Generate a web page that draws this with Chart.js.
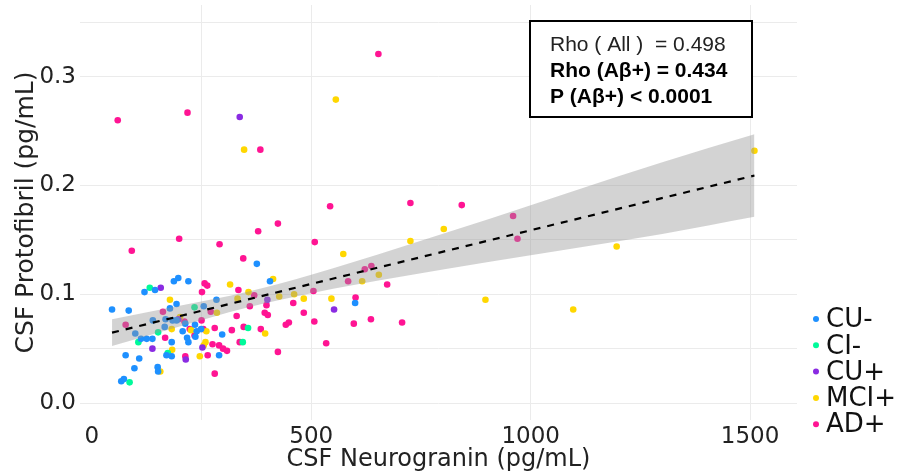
<!DOCTYPE html>
<html>
<head>
<meta charset="utf-8">
<script src="https://cdn.jsdelivr.net/npm/chart.js@4.4.1/dist/chart.umd.min.js"></script>
<style>
  html, body { margin: 0; padding: 0; background: #fff; }
  #wrap { width: 909px; height: 476px; }
</style>
</head>
<body>
<div id="wrap"><canvas id="scatterChart" width="909" height="476"></canvas></div>
<script>
// Groups and colours (legend order)
const GROUPS = ["CU-", "CI-", "CU+", "MCI+", "AD+"];
const GROUP_COLORS = ["#1e90ff", "#00fa9a", "#8a2be2", "#ffd700", "#ff1493"];

// [neurogranin pg/mL, protofibril pg/mL] per participant
const cuMinus = [
    [46, 0.086], [84, 0.085], [120, 0.102], [144, 0.104], [187, 0.112], [197, 0.115],
    [220, 0.112], [193, 0.091], [178, 0.087], [184, 0.076], [193, 0.076], [139, 0.076],
    [168, 0.077], [99, 0.064], [166, 0.070], [207, 0.066], [213, 0.073], [235, 0.072],
    [239, 0.066], [249, 0.068], [217, 0.060], [220, 0.056], [236, 0.061], [255, 0.089],
    [284, 0.095], [297, 0.063], [290, 0.044], [376, 0.128], [406, 0.112], [600, 0.092],
    [77, 0.044], [108, 0.041], [97, 0.032], [150, 0.033], [151, 0.029], [67, 0.020],
    [73, 0.022], [170, 0.044], [182, 0.043], [182, 0.056], [112, 0.059], [125, 0.059],
    [138, 0.059]
];
const ciMinus = [
    [132, 0.106], [234, 0.088], [151, 0.065], [106, 0.056], [86, 0.019], [173, 0.046],
    [356, 0.069], [344, 0.056]
];
const cuPlus = [
    [157, 0.106], [337, 0.263], [552, 0.086], [400, 0.095], [138, 0.050], [214, 0.040],
    [252, 0.051], [197, 0.077]
];
const mciPlus = [
    [347, 0.233], [556, 0.279], [1510, 0.232], [802, 0.160], [726, 0.149], [654, 0.118],
    [897, 0.095], [1097, 0.086], [1196, 0.144], [573, 0.137], [413, 0.114], [616, 0.112],
    [546, 0.096], [483, 0.096], [461, 0.100], [427, 0.098], [395, 0.064], [357, 0.102],
    [332, 0.096], [315, 0.109], [178, 0.095], [201, 0.079], [182, 0.068], [226, 0.067],
    [255, 0.053], [261, 0.066], [259, 0.056], [285, 0.083], [156, 0.029], [183, 0.049],
    [246, 0.043]
];
const adPlus = [
    [59, 0.260], [218, 0.267], [384, 0.233], [653, 0.321], [543, 0.181], [424, 0.165],
    [379, 0.158], [726, 0.184], [843, 0.182], [960, 0.172], [970, 0.151], [637, 0.126],
    [673, 0.109], [636, 0.077], [707, 0.074], [508, 0.148], [345, 0.133], [622, 0.123],
    [584, 0.112], [505, 0.103], [601, 0.097], [597, 0.073], [534, 0.055], [507, 0.075],
    [483, 0.083], [459, 0.092], [398, 0.090], [394, 0.083], [401, 0.081], [449, 0.074],
    [442, 0.072], [385, 0.068], [424, 0.047], [370, 0.099], [360, 0.089], [334, 0.104],
    [330, 0.080], [346, 0.070], [319, 0.067], [337, 0.056], [91, 0.140], [199, 0.151],
    [291, 0.146], [257, 0.110], [263, 0.108], [251, 0.102], [162, 0.084], [211, 0.075],
    [77, 0.072], [250, 0.076], [254, 0.068], [223, 0.068], [234, 0.062], [280, 0.069],
    [271, 0.084], [280, 0.027], [264, 0.044], [275, 0.054], [290, 0.053], [299, 0.050],
    [308, 0.048], [213, 0.043], [167, 0.060]
];

// Fitted line and its confidence band
const TREND_X = [46, 1510];
const TREND_Y = [0.0647, 0.2092];
const BAND_X = [46, 200, 350, 500, 700, 907, 1100, 1300, 1510];
const BAND_LO = [0.0525, 0.0704, 0.0875, 0.101, 0.1158, 0.130, 0.1423, 0.1555, 0.1712];
const BAND_HI = [0.0770, 0.0894, 0.1019, 0.118, 0.1428, 0.1694, 0.1953, 0.2215, 0.2472];

// Axis ticks
const X_TICKS = [0, 250, 500, 750, 1000, 1250, 1500];
const X_LABELED = [0, 500, 1000, 1500];
const X_GRID = [250, 500, 1000, 1500];
const Y_TICKS = [0, 0.05, 0.1, 0.15, 0.2, 0.25, 0.3, 0.35];
const Y_LABELED = [0, 0.1, 0.2, 0.3];
const Y_GRID = [0, 0.05, 0.1, 0.15, 0.2, 0.3, 0.35];

const STATS_LINES = [
    { text: "Rho ( All )  = 0.498", bold: false },
    { text: "Rho (A\u03b2+) = 0.434", bold: true },
    { text: "P (A\u03b2+) < 0.0001", bold: true },
];

const GRID_COLOR = "#ebebeb";
const AXIS_FONT = "'DejaVu Sans', sans-serif";

const toXY = (pairs) => pairs.map(([x, y]) => ({ x, y }));
const zipXY = (xs, ys) => xs.map((x, i) => ({ x, y: ys[i] }));
const near = (list, v) => list.some((t) => Math.abs(t - v) < 1e-6);

// Legend at the lower right, dot + label
const groupLegend = {
    id: "groupLegend",
    afterDraw(chart) {
        const ctx = chart.ctx;
        const x = chart.chartArea.right + 19;
        ctx.save();
        ctx.font = "26px " + AXIS_FONT;
        ctx.textBaseline = "middle";
        ctx.textAlign = "left";
        GROUPS.forEach((name, i) => {
            const y = 319 + i * 26.3;
            ctx.fillStyle = GROUP_COLORS[i];
            ctx.beginPath();
            ctx.arc(x, y, 3, 0, Math.PI * 2);
            ctx.fill();
            ctx.fillStyle = "#111";
            ctx.fillText(name, x + 10, y + 1.5);
        });
        ctx.restore();
    },
};

// Correlation box in the upper right of the plot
const statsBox = {
    id: "statsBox",
    afterDraw(chart) {
        const ctx = chart.ctx;
        ctx.save();
        ctx.fillStyle = "#fff";
        ctx.fillRect(530, 21, 222, 96);
        ctx.lineWidth = 2;
        ctx.strokeStyle = "#000";
        ctx.strokeRect(530, 21, 222, 96);
        ctx.textAlign = "left";
        ctx.textBaseline = "alphabetic";
        STATS_LINES.forEach((line, i) => {
            ctx.font = (line.bold ? "bold " : "") + "21px 'Liberation Sans', Arial, sans-serif";
            ctx.fillStyle = line.bold ? "#000" : "#222";
            ctx.fillText(line.text, 550, 51 + i * 26.2);
        });
        ctx.restore();
    },
};

function pointSet(label, pairs, color) {
    return {
        label: label,
        data: toXY(pairs),
        backgroundColor: color,
        borderColor: color,
        borderWidth: 0,
        pointRadius: 3.3,
        pointHoverRadius: 3.3,
        order: 3,
    };
}

const ctx = document.getElementById("scatterChart").getContext("2d");

new Chart(ctx, {
    type: "scatter",
    data: {
        datasets: [
            {
                type: "line",
                label: "fit",
                data: zipXY(TREND_X, TREND_Y),
                borderColor: "#000",
                borderWidth: 2.2,
                borderDash: [7, 7],
                pointRadius: 0,
                fill: false,
                order: 1,
            },
            {
                type: "line",
                label: "ci-upper",
                data: zipXY(BAND_X, BAND_HI),
                borderWidth: 0,
                borderColor: "rgba(0,0,0,0)",
                backgroundColor: "rgba(150,150,150,0.42)",
                pointRadius: 0,
                cubicInterpolationMode: "monotone",
                fill: "+1",
                order: 2,
            },
            {
                type: "line",
                label: "ci-lower",
                data: zipXY(BAND_X, BAND_LO),
                borderWidth: 0,
                borderColor: "rgba(0,0,0,0)",
                pointRadius: 0,
                cubicInterpolationMode: "monotone",
                fill: false,
                order: 2,
            },
            pointSet("CU-", cuMinus, GROUP_COLORS[0]),
            pointSet("CI-", ciMinus, GROUP_COLORS[1]),
            pointSet("CU+", cuPlus, GROUP_COLORS[2]),
            pointSet("MCI+", mciPlus, GROUP_COLORS[3]),
            pointSet("AD+", adPlus, GROUP_COLORS[4]),
        ],
    },
    options: {
        responsive: false,
        animation: false,
        layout: { padding: { top: 5, right: 112, left: 0, bottom: 0 } },
        plugins: {
            legend: { display: false },
            tooltip: { enabled: false },
        },
        scales: {
            x: {
                type: "linear",
                min: -27,
                max: 1607,
                afterBuildTicks: (scale) => {
                    scale.ticks = X_TICKS.map((v) => ({ value: v }));
                },
                afterFit: (scale) => {
                    scale.height = 56;
                    scale.paddingLeft = 0;
                    scale.paddingRight = 0;
                },
                border: { display: false },
                grid: {
                    drawTicks: false,
                    lineWidth: 1,
                    color: (c) => (c.tick && near(X_GRID, c.tick.value) ? GRID_COLOR : "rgba(0,0,0,0)"),
                },
                ticks: {
                    padding: 3,
                    maxRotation: 0,
                    autoSkip: false,
                    color: "#222",
                    font: { family: AXIS_FONT, size: 23 },
                    callback: (v) => (near(X_LABELED, v) ? String(v) : ""),
                },
                title: {
                    display: true,
                    text: "CSF Neurogranin (pg/mL)",
                    color: "#222",
                    font: { family: AXIS_FONT, size: 24 },
                    padding: { top: 0, bottom: 2 },
                },
            },
            y: {
                type: "linear",
                min: -0.0156,
                max: 0.366,
                afterBuildTicks: (scale) => {
                    scale.ticks = Y_TICKS.map((v) => ({ value: v }));
                },
                afterFit: (scale) => {
                    scale.width = 80;
                    scale.paddingTop = 0;
                    scale.paddingBottom = 0;
                },
                border: { display: false },
                grid: {
                    drawTicks: false,
                    lineWidth: 1,
                    color: (c) => (c.tick && near(Y_GRID, c.tick.value) ? GRID_COLOR : "rgba(0,0,0,0)"),
                },
                ticks: {
                    padding: 4,
                    autoSkip: false,
                    color: "#222",
                    font: { family: AXIS_FONT, size: 23 },
                    callback: (v) => (near(Y_LABELED, v) ? v.toFixed(1) : ""),
                },
                title: {
                    display: true,
                    text: "CSF Protofibril (pg/mL)",
                    color: "#222",
                    font: { family: AXIS_FONT, size: 25 },
                    padding: { top: 11, bottom: 0 },
                },
            },
        },
    },
    plugins: [statsBox, groupLegend],
});
</script>
</body>
</html>
